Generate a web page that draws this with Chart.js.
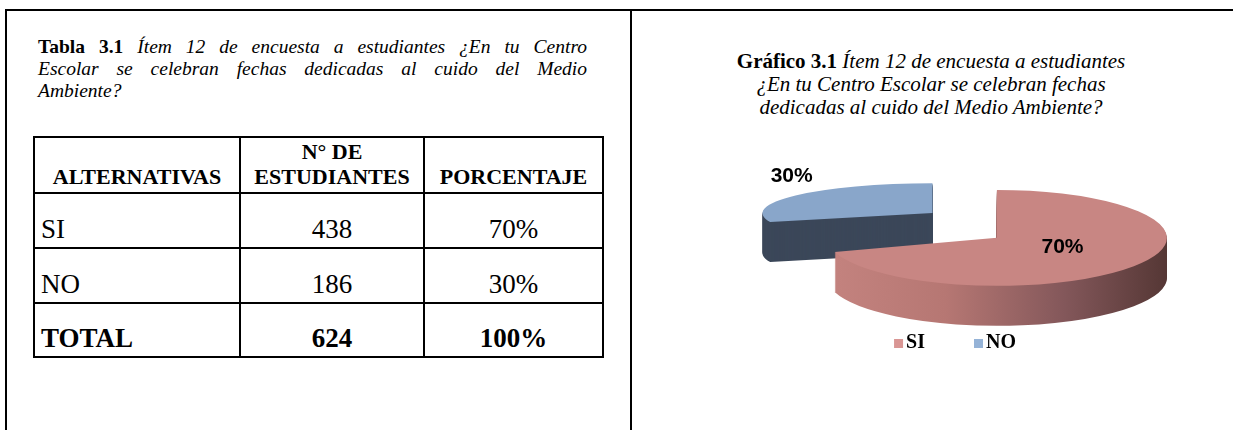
<!DOCTYPE html>
<html><head><meta charset="utf-8">
<script src="https://cdn.jsdelivr.net/npm/chart.js@4"></script>
<style>
html,body{margin:0;padding:0;background:#fff}
body{width:1233px;height:430px;overflow:hidden;position:relative;font-family:"Liberation Serif","Times New Roman",serif;color:#000}
.ln{position:absolute;background:#000}
#ttl{position:absolute;left:38px;top:36px;width:549px;font-size:19.5px;line-height:22px}
#ttl div{text-align:justify;text-align-last:justify;white-space:nowrap}
#ttl div.last{text-align-last:left}
#ttl i{font-style:italic}
#tbl{position:absolute;left:33px;top:136px;border-collapse:collapse;table-layout:fixed}
#tbl td{border:2px solid #000;padding:0 6px 4px 6px;vertical-align:bottom;font-size:27px;line-height:28px;text-align:center}
#tbl td.l{text-align:left;padding-left:6px}
#tbl tr.h td{font-weight:bold;font-size:22px;line-height:25px;padding-bottom:3px}
#tbl tr.t td{font-weight:bold}
#ctitle{position:absolute;left:632px;width:598px;top:50px;text-align:center;font-size:21px;line-height:23px;white-space:nowrap}
#chartbox{position:absolute;left:670px;top:11px;width:563px;height:352px}
</style></head><body>
<div class="ln" style="left:5px;top:9px;width:1228px;height:2px"></div>
<div class="ln" style="left:5px;top:9px;width:2px;height:421px"></div>
<div class="ln" style="left:630px;top:9px;width:2px;height:421px"></div>

<div id="ttl">
<div><b>Tabla 3.1</b> <i>Ítem 12 de encuesta a estudiantes ¿En tu Centro</i></div>
<div><i>Escolar se celebran fechas dedicadas al cuido del Medio</i></div>
<div class="last"><i>Ambiente?</i></div>
</div>

<table id="tbl"></table>

<div id="ctitle"><b>Gráfico 3.1</b> <i>Ítem 12 de encuesta a estudiantes</i><br><i>¿En tu Centro Escolar se celebran fechas</i><br><i>dedicadas al cuido del Medio Ambiente?</i></div>

<div id="chartbox"><canvas id="c" width="563" height="352"></canvas></div>

<script>
// ---- data ----
const categories = ['SI', 'NO'];
const students = [438, 186];
const percentLabels = ['70%', '30%'];
const totalLabel = 'TOTAL';
const totalStudents = 624;
const totalPercent = '100%';
const headers = ['ALTERNATIVAS', 'N° DE<br>ESTUDIANTES', 'PORCENTAJE'];

// ---- styles ----
const topColors = ['#c88683', '#89a6ca'];
const legendColors = ['#d99694', '#95b3d7'];
const colWidths = [206, 184, 179];
const rowHeights = [56, 55, 55, 54];

// ---- table built from the arrays ----
const tbl = document.getElementById('tbl');
let html = '<colgroup>' + colWidths.map(w => '<col style="width:' + w + 'px">').join('') + '</colgroup>';
html += '<tr class="h" style="height:' + rowHeights[0] + 'px">' + headers.map(h => '<td>' + h + '</td>').join('') + '</tr>';
categories.forEach((c, i) => {
  html += '<tr style="height:' + rowHeights[i + 1] + 'px"><td class="l">' + c + '</td><td>' + students[i] + '</td><td>' + percentLabels[i] + '</td></tr>';
});
html += '<tr class="t" style="height:' + rowHeights[3] + 'px"><td class="l">' + totalLabel + '</td><td>' + totalStudents + '</td><td>' + totalPercent + '</td></tr>';
tbl.innerHTML = html;

// ---- legend swatch images (square placed at right so the text sits close) ----
function swatch(color) {
  const c = document.createElement('canvas');
  c.width = 31; c.height = 9;
  const g = c.getContext('2d');
  g.fillStyle = color;
  g.fillRect(18, 0, 9, 9);
  return c;
}

// ---- 3D pie plugin (per-slice tilt emulates the perspective of the original) ----
const pie3d = {
  id: 'pie3d',
  beforeDatasetsDraw(chart, args, o) {
    const ctx = chart.ctx;
    const arcs = chart.getDatasetMeta(0).data;
    const total = students.reduce((a, b) => a + b, 0);
    const cx = arcs[0].x, cy = arcs[0].y;
    const mids = arcs.map(a => (a.startAngle + a.endAngle) / 2);
    const centers = arcs.map((a, i) => ({
      x: o.centerX + Math.cos(mids[i]) * o.explode[i],
      y: o.centerY + Math.sin(mids[i]) * o.explode[i] * o.tilt[i] + o.lift[i]
    }));
    const order = arcs.map((a, i) => i).sort((i, j) => Math.sin(mids[i]) - Math.sin(mids[j]));
    const drawArc = (a, i, dy, fill) => {
      ctx.save();
      ctx.translate(centers[i].x, centers[i].y + dy);
      ctx.scale(1, o.tilt[i]);
      ctx.translate(-cx, -cy);
      const tmp = Object.create(a);
      tmp.options = Object.assign({}, a.options, {backgroundColor: fill, borderWidth: 0, offset: 0});
      tmp.draw(ctx);
      ctx.restore();
    };
    order.forEach(i => {
      const a = arcs[i];
      let side;
      if (o.sideGradient[i]) {
        const g = ctx.createLinearGradient(cx - a.outerRadius, 0, cx + a.outerRadius, 0);
        o.sideGradient[i].forEach(s => g.addColorStop(s[0], s[1]));
        side = g;
      } else side = o.sideColors[i];
      for (let d = o.depth[i]; d >= 1; d--) drawArc(a, i, d, side);
      drawArc(a, i, 0, a.options.backgroundColor);
    });
    // percentage labels
    ctx.save();
    ctx.font = 'bold 21px "Liberation Sans", Arial, sans-serif';
    ctx.fillStyle = '#000';
    ctx.textAlign = 'center';
    ctx.textBaseline = 'middle';
    arcs.forEach((a, i) => {
      const ang = mids[i] + o.labelAngle[i];
      const r = a.outerRadius * o.labelRadius[i];
      const x = centers[i].x + Math.cos(ang) * r;
      const y = centers[i].y + Math.sin(ang) * r * o.tilt[i];
      ctx.fillText(Math.round(students[i] / total * 100) + '%', x, y);
    });
    ctx.restore();
    return false;
  }
};

new Chart(document.getElementById('c'), {
  type: 'pie',
  data: {
    labels: categories,
    datasets: [{data: students, backgroundColor: topColors, borderWidth: 0, radius: 170}]
  },
  options: {
    responsive: false,
    animation: false,
    events: [],
    plugins: {
      tooltip: {enabled: false},
      legend: {
        position: 'bottom',
        labels: {
          usePointStyle: true, boxWidth: 9, boxHeight: 9, padding: 42, color: '#000',
          font: {family: '"Liberation Serif", "Times New Roman", serif', size: 20, weight: 'bold'},
          generateLabels: (chart) => categories.map((c, i) => ({
            text: c, fillStyle: legendColors[i], strokeStyle: legendColors[i], lineWidth: 0,
            hidden: false, index: i, pointStyle: swatch(legendColors[i])
          }))
        }
      },
      pie3d: {
        centerX: 296.3, centerY: 220.5,
        tilt: [0.282, 0.176], depth: [40, 40],
        explode: [38, 42], lift: [0, -14],
        sideColors: ['#8a5a57', '#3b4759'],
        sideGradient: [[[0, '#c4837f'], [0.35, '#b67773'], [0.7, '#83575a'], [1, '#553735']], null],
        labelRadius: [0.43, 1.49],
        labelAngle: [-0.176, 0.347]
      }
    }
  },
  plugins: [pie3d]
});
</script>
</body></html>
